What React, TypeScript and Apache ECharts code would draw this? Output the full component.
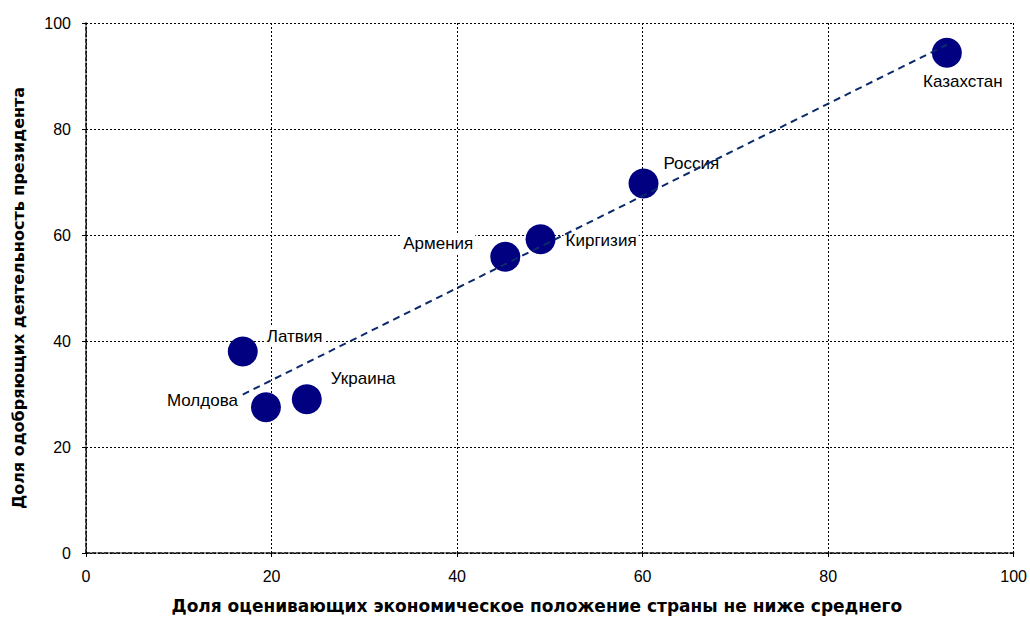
import React, { useEffect, useRef } from "react";
import * as echarts from "echarts";

const countries = ["Латвия", "Молдова", "Украина", "Армения", "Киргизия", "Россия", "Казахстан"];
const econShare = [16.9, 19.4, 23.8, 45.2, 49.0, 60.1, 92.8];
const approvalShare = [38.0, 27.5, 29.0, 55.9, 59.2, 69.7, 94.4];
const trendX = [16.9, 92.8];
const trendY = [29.9, 95.9];
const xTicks = [0, 20, 40, 60, 80, 100];
const yTicks = [0, 20, 40, 60, 80, 100];
const xTitle = "Доля оценивающих экономическое положение страны не ниже среднего";
const yTitle = "Доля одобряющих деятельность президента";

const labelPlacement: Record<string, { offset: [number, number]; align: string }> = {
  "Латвия": { offset: [22, -15], align: "left" },
  "Молдова": { offset: [-26, -7], align: "right" },
  "Украина": { offset: [22, -21], align: "left" },
  "Армения": { offset: [-30, -13], align: "right" },
  "Киргизия": { offset: [23, 1], align: "left" },
  "Россия": { offset: [18, -20], align: "left" },
  "Казахстан": { offset: [16, 29], align: "center" },
};

const FONT = "Liberation Sans, Arial, sans-serif";

export default function App() {
  const ref = useRef<HTMLDivElement>(null);
  useEffect(() => {
    if (!ref.current) return;
    const chart = echarts.init(ref.current, null, { renderer: "svg" });
    const gridLine = { show: true, lineStyle: { color: "#000", type: [2, 2] as any, width: 1 } };
    const points = countries.map((name, i) => {
      const p = labelPlacement[name];
      return {
        name,
        value: [econShare[i], approvalShare[i]],
        label: {
          show: true,
          formatter: name,
          position: "inside",
          offset: p.offset,
          align: p.align,
          verticalAlign: "middle",
          color: "#000",
          fontSize: 17,
          fontFamily: FONT,
          backgroundColor: "#fff",
          padding: [1, 2],
        },
      };
    });
    chart.setOption({
      animation: false,
      backgroundColor: "#fff",
      grid: { left: 86, top: 23, right: 16, bottom: 56, containLabel: false },
      xAxis: {
        type: "value",
        min: 0,
        max: 100,
        interval: 20,
        name: xTitle,
        nameLocation: "middle",
        nameGap: 44,
        nameTextStyle: {
          fontSize: 17,
          fontWeight: "bold",
          color: "#000",
          fontFamily: "DejaVu Sans, sans-serif",
          padding: [0, 26, 0, 0],
        },
        axisLine: { show: true, lineStyle: { color: "#000", type: [4, 2] as any, width: 1.5 } },
        axisTick: { show: true, inside: false, length: 4, lineStyle: { color: "#000" } },
        axisLabel: {
          margin: 15,
          fontSize: 16,
          color: "#000",
          fontFamily: FONT,
          formatter: (v: number) => (xTicks.includes(v) ? String(v) : ""),
        },
        splitLine: gridLine,
      },
      yAxis: {
        type: "value",
        min: 0,
        max: 100,
        interval: 20,
        name: yTitle,
        nameLocation: "middle",
        nameGap: 60,
        nameTextStyle: {
          fontSize: 16,
          fontWeight: "bold",
          color: "#000",
          fontFamily: "DejaVu Sans, sans-serif",
          padding: [0, 20, 0, 0],
        },
        axisLine: { show: true, lineStyle: { color: "#000", type: [4, 2] as any, width: 1.5 } },
        axisTick: { show: true, inside: false, length: 4, lineStyle: { color: "#000" } },
        axisLabel: {
          margin: 15,
          fontSize: 16,
          color: "#000",
          fontFamily: FONT,
          formatter: (v: number) => (yTicks.includes(v) ? String(v) : ""),
        },
        splitLine: gridLine,
      },
      series: [
        {
          type: "line",
          data: trendX.map((x, i) => [x, trendY[i]]),
          symbol: "none",
          lineStyle: { color: "#0b2a6b", width: 2, type: [7, 5] as any },
          z: 3,
          silent: true,
        },
        {
          type: "scatter",
          data: points,
          symbol: "circle",
          symbolSize: 30,
          itemStyle: { color: "#000080", opacity: 1 },
          z: 2,
        },
      ],
    });
    return () => chart.dispose();
  }, []);
  return <div ref={ref} style={{ position: "absolute", left: 0, top: 0, width: 1030, height: 619 }} />;
}
